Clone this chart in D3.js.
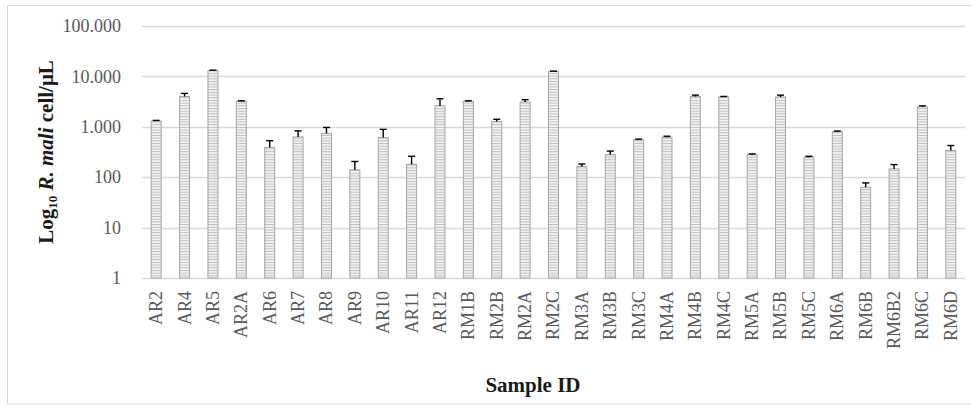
<!DOCTYPE html>
<html>
<head>
<meta charset="utf-8">
<script src="https://cdn.jsdelivr.net/npm/d3@7/dist/d3.min.js"></script>
<style>
  html, body { margin: 0; padding: 0; background: #fff; }
  svg { display: block; }
</style>
</head>
<body>
<svg id="chart" width="971" height="405"></svg>
<script>
const categories = ["AR2","AR4","AR5","AR2A","AR6","AR7","AR8","AR9","AR10","AR11","AR12",
  "RM1B","RM2B","RM2A","RM2C","RM3A","RM3B","RM3C","RM4A","RM4B","RM4C","RM5A","RM5B",
  "RM5C","RM6A","RM6B","RM6B2","RM6C","RM6D"];
const values = [1300, 4000, 13000, 3200, 390, 630, 740, 140, 610, 180, 2600,
  3200, 1280, 3100, 12500, 163, 280, 550, 620, 4000, 3900, 280, 3900,
  250, 800, 63, 146, 2500, 340];
const errors = [40, 600, 300, 80, 140, 200, 230, 65, 280, 80, 1000,
  80, 130, 350, 250, 20, 50, 20, 30, 250, 100, 10, 350,
  10, 25, 14, 32, 100, 85];
const yTickValues = [1, 10, 100, 1000, 10000, 100000];
const yTickLabels = ["1", "10", "100", "1.000", "10.000", "100.000"];

const svg = d3.select("#chart");
const margin = { left: 142, right: 6, top: 26, bottom: 127 };
const W = 971, H = 405;

// chart border
svg.append("rect").attr("x", 7.5).attr("y", 5.5).attr("width", 970).attr("height", 398.5)
  .attr("fill", "none").attr("stroke", "#d9d9d9").attr("stroke-width", 1);

const defs = svg.append("defs");
const pat = defs.append("pattern").attr("id", "hstripe").attr("patternUnits", "userSpaceOnUse")
  .attr("width", 6).attr("height", 2.7);
pat.append("rect").attr("width", 6).attr("height", 2.7).attr("fill", "#f4f4f4");
pat.append("rect").attr("y", 0).attr("width", 6).attr("height", 1).attr("fill", "#bdbdbd");

const x = d3.scaleBand().domain(categories).range([margin.left, W - margin.right])
  .paddingInner(0.648).paddingOuter(0.324);
const y = d3.scaleLog().domain([1, 100000]).range([H - margin.bottom, margin.top]);

// gridlines
svg.append("g").selectAll("line").data(yTickValues).join("line")
  .attr("x1", margin.left).attr("x2", W - margin.right)
  .attr("y1", d => Math.round(y(d)) + 0.5).attr("y2", d => Math.round(y(d)) + 0.5)
  .attr("stroke", "#d9d9d9").attr("stroke-width", 1.3);

// y axis labels
const yAxis = d3.axisLeft(y).tickValues(yTickValues)
  .tickFormat((d, i) => yTickLabels[i]).tickSize(0).tickPadding(21);
const gy = svg.append("g").attr("transform", `translate(${margin.left},0)`).call(yAxis);
gy.select(".domain").remove();
gy.selectAll("text").attr("font-family", "'Liberation Serif', serif").attr("font-size", 18)
  .attr("fill", "#595959");

// bars
svg.append("g").selectAll("rect").data(categories).join("rect")
  .attr("x", d => x(d))
  .attr("width", x.bandwidth())
  .attr("y", (d, i) => y(values[i]))
  .attr("height", (d, i) => y(1) - y(values[i]))
  .attr("fill", "url(#hstripe)")
  .attr("stroke", "#a6a6a6").attr("stroke-width", 1);

// error bars
const eg = svg.append("g").attr("stroke", "#000").attr("stroke-width", 1.4);
categories.forEach((c, i) => {
  const cx = x(c) + x.bandwidth() / 2;
  const top = y(values[i] + errors[i]);
  eg.append("line").attr("x1", cx).attr("x2", cx).attr("y1", y(values[i])).attr("y2", top);
  eg.append("line").attr("x1", cx - 3.5).attr("x2", cx + 3.5).attr("y1", top).attr("y2", top);
});

// x axis labels
const xAxis = d3.axisBottom(x).tickSize(0).tickPadding(0);
const gx = svg.append("g").attr("transform", `translate(0,${H - margin.bottom})`).call(xAxis);
gx.select(".domain").remove();
gx.selectAll("text")
  .attr("font-family", "'Liberation Serif', serif").attr("font-size", 18).attr("fill", "#595959")
  .attr("text-anchor", "end")
  .attr("transform", "translate(0,13) rotate(-90)")
  .attr("x", 0).attr("y", 0).attr("dy", "0.33em");

// axis titles
svg.append("text").attr("x", 533).attr("y", 392)
  .attr("text-anchor", "middle")
  .attr("font-family", "'Liberation Serif', serif").attr("font-size", 21).attr("font-weight", "bold")
  .attr("fill", "#1a1a1a").text("Sample ID");

const yt = svg.append("text")
  .attr("transform", `translate(53,${(y(1) + y(100000)) / 2}) rotate(-90)`)
  .attr("text-anchor", "middle")
  .attr("font-family", "'Liberation Serif', serif").attr("font-size", 21).attr("font-weight", "bold")
  .attr("fill", "#1a1a1a");
yt.append("tspan").text("Log");
yt.append("tspan").attr("font-size", 13).attr("dy", 4).text("10");
yt.append("tspan").attr("dy", -4).text(" ");
yt.append("tspan").attr("font-style", "italic").text("R. mali");
yt.append("tspan").text(" cell/μL");
</script>
</body>
</html>
